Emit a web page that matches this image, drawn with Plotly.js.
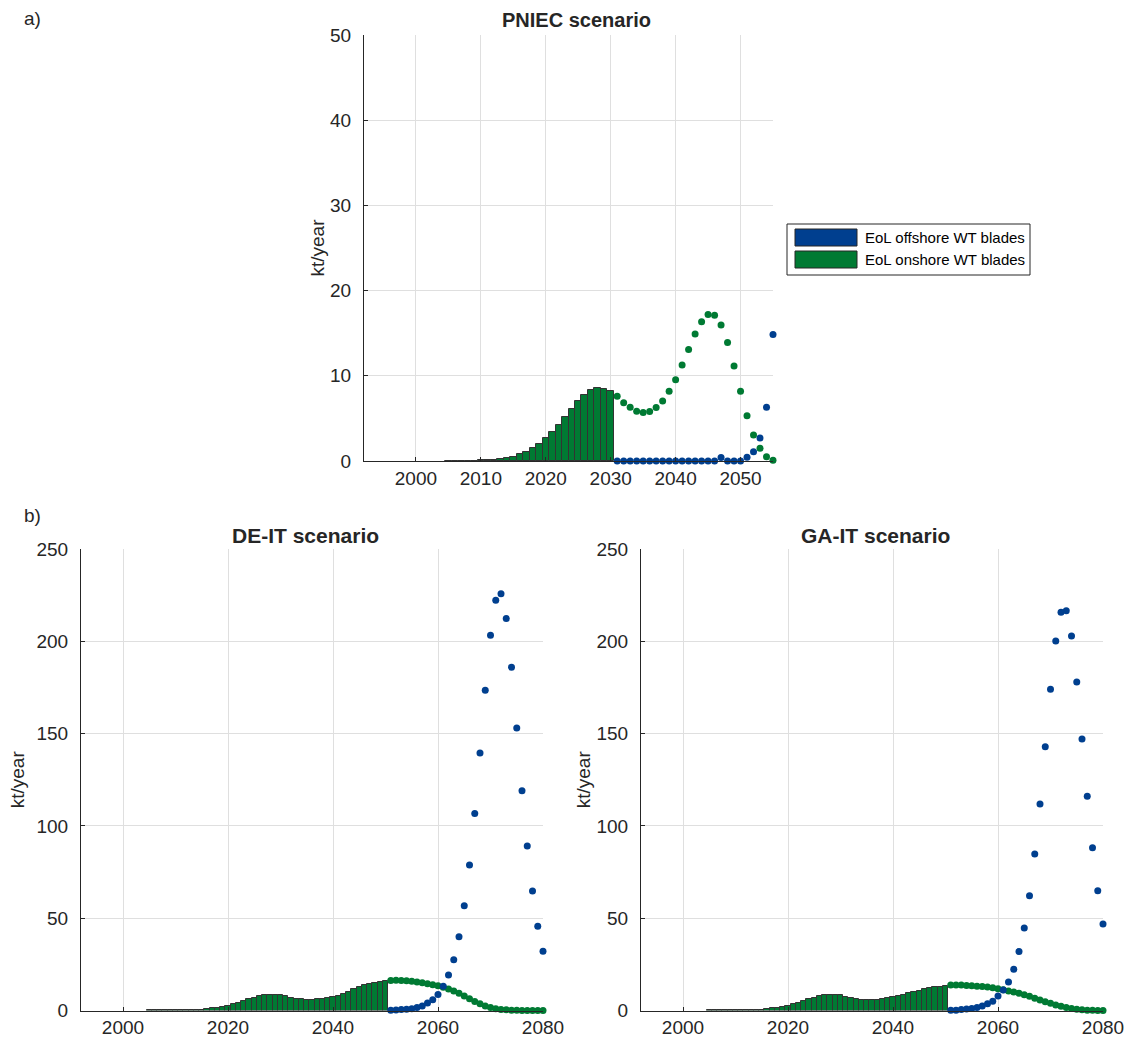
<!DOCTYPE html>
<html>
<head>
<meta charset="utf-8">
<script src="https://cdn.plot.ly/plotly-3.0.1.min.js"></script>
<style>
  html, body { margin: 0; padding: 0; background: #ffffff; }
  #chart { width: 1128px; height: 1042px; }
</style>
</head>
<body>
<div id="chart"></div>
<script>
// ---------------- DATA ----------------
const seriesNames = ['EoL offshore WT blades', 'EoL onshore WT blades'];
const panelTitles = ['PNIEC scenario', 'DE-IT scenario', 'GA-IT scenario'];
const panelLabels = ['a)', 'b)'];
const yTitle = 'kt/year';

// PNIEC: bars (onshore) 2005-2030
const pniecBarYears = [2005,2006,2007,2008,2009,2010,2011,2012,2013,2014,2015,2016,2017,2018,2019,2020,2021,2022,2023,2024,2025,2026,2027,2028,2029,2030];
const pniecOnshoreBars = [0.01,0.02,0.02,0.03,0.04,0.06,0.09,0.13,0.2,0.32,0.52,0.79,1.1,1.53,2.04,2.66,3.37,4.23,5.13,6.07,7.0,7.8,8.33,8.6,8.5,8.18];
// PNIEC: dots 2031-2055
const pniecDotYears = [2031,2032,2033,2034,2035,2036,2037,2038,2039,2040,2041,2042,2043,2044,2045,2046,2047,2048,2049,2050,2051,2052,2053,2054,2055];
const pniecOnshoreDots = [7.6,6.85,6.3,5.84,5.68,5.8,6.27,7.05,8.2,9.55,11.27,13.1,14.9,16.35,17.2,17.1,15.96,13.9,11.15,8.2,5.3,3.05,1.5,0.5,0.1];
const pniecOffshoreDots = [0,0,0,0,0,0,0,0,0,0,0,0,0,0,0,0,0.4,0,0,0,0.45,1.1,2.7,6.3,14.85];

// DE-IT / GA-IT: bars (onshore) 2005-2050
const longBarYears = [2005,2006,2007,2008,2009,2010,2011,2012,2013,2014,2015,2016,2017,2018,2019,2020,2021,2022,2023,2024,2025,2026,2027,2028,2029,2030,2031,2032,2033,2034,2035,2036,2037,2038,2039,2040,2041,2042,2043,2044,2045,2046,2047,2048,2049,2050];
const deitOnshoreBars = [0.01,0.02,0.02,0.03,0.04,0.06,0.09,0.13,0.2,0.32,0.52,0.79,1.1,1.53,2.04,2.66,3.37,4.23,5.13,6.07,7.0,7.8,8.33,8.6,8.5,8.18,7.6,7.0,6.4,6.0,5.8,5.8,6.0,6.3,6.7,7.2,7.9,8.9,10.1,11.4,12.6,13.6,14.4,15.1,15.6,15.9];
const gaitOnshoreBars = [0.01,0.02,0.02,0.03,0.04,0.06,0.09,0.13,0.2,0.32,0.52,0.79,1.1,1.53,2.04,2.66,3.37,4.23,5.13,6.07,7.0,7.8,8.33,8.6,8.5,8.18,7.5,6.8,6.2,5.8,5.6,5.6,5.8,6.1,6.6,7.1,7.8,8.5,9.3,10.0,10.7,11.5,12.2,12.7,13.0,13.3];
// DE-IT / GA-IT: dots 2051-2080
const longDotYears = [2051,2052,2053,2054,2055,2056,2057,2058,2059,2060,2061,2062,2063,2064,2065,2066,2067,2068,2069,2070,2071,2072,2073,2074,2075,2076,2077,2078,2079,2080];
const deitOffshoreDots = [0.1,0.3,0.5,0.7,1.0,1.6,2.4,4.0,5.8,8.7,13.1,19.2,27.5,40.0,56.8,78.8,106.7,139.5,173.5,203.3,222.2,225.8,212.3,186.0,153.1,119.1,89.1,64.7,45.7,32.1];
const deitOnshoreDots = [16.3,16.4,16.3,16.1,15.8,15.4,15.0,14.5,13.9,13.4,12.6,11.7,10.6,9.3,7.9,6.4,4.9,3.6,2.5,1.6,1.0,0.6,0.4,0.2,0.1,0.05,0.03,0.02,0.01,0.01];
const gaitOffshoreDots = [0.1,0.2,0.5,0.8,1.1,1.6,2.5,3.6,5.0,7.9,11.1,15.4,22.3,31.9,44.7,62.2,84.8,111.9,142.9,174.0,200.2,215.7,216.6,202.9,178.0,147.1,116.0,88.2,64.9,46.9];
const gaitOnshoreDots = [13.8,13.8,13.8,13.6,13.4,13.2,13.0,12.7,12.3,11.8,11.2,10.6,10.0,9.3,8.5,7.7,6.7,5.7,4.8,3.9,3.0,2.3,1.6,1.1,0.7,0.4,0.2,0.1,0.05,0.02];

const topXTicks = [2000, 2010, 2020, 2030, 2040, 2050];
const topYTicks = [0, 10, 20, 30, 40, 50];
const botXTicks = [2000, 2020, 2040, 2060, 2080];
const botYTicks = [0, 50, 100, 150, 200, 250];

// ---------------- STYLE ----------------
const W = 1128, H = 1042;
const BLUE = '#003f8f';
const GREEN = '#007a33';
const EDGE = '#333333';
const AXC = '#262626';
const GRID = '#dfdfdf';
const FONT = '"Liberation Sans", Arial, Helvetica, sans-serif';
const px = v => v / W;
const py = v => 1 - v / H;

function barTrace(x, y, xa, ya) {
  return { type: 'bar', x: x, y: y, xaxis: xa, yaxis: ya, width: 1,
    marker: { color: GREEN, line: { color: EDGE, width: 1 } },
    showlegend: false, hoverinfo: 'x+y' };
}
function dotTrace(x, y, color, xa, ya) {
  return { type: 'scatter', mode: 'markers', x: x, y: y, xaxis: xa, yaxis: ya,
    marker: { color: color, size: 7 }, cliponaxis: false,
    showlegend: false, hoverinfo: 'x+y' };
}

const traces = [
  barTrace(pniecBarYears, pniecOnshoreBars, 'x', 'y'),
  dotTrace(pniecDotYears, pniecOffshoreDots, BLUE, 'x', 'y'),
  dotTrace(pniecDotYears, pniecOnshoreDots, GREEN, 'x', 'y'),

  barTrace(longBarYears, deitOnshoreBars, 'x2', 'y2'),
  dotTrace(longDotYears, deitOnshoreDots, GREEN, 'x2', 'y2'),
  dotTrace(longDotYears, deitOffshoreDots, BLUE, 'x2', 'y2'),

  barTrace(longBarYears, gaitOnshoreBars, 'x3', 'y3'),
  dotTrace(longDotYears, gaitOnshoreDots, GREEN, 'x3', 'y3'),
  dotTrace(longDotYears, gaitOffshoreDots, BLUE, 'x3', 'y3')
];

function xAxis(domain, range, ticks, anchor) {
  return { domain: domain, range: range, anchor: anchor, tickvals: ticks,
    ticks: 'inside', ticklen: 4, tickcolor: AXC, showline: true, linecolor: AXC, linewidth: 1,
    showgrid: true, gridcolor: GRID, gridwidth: 1, zeroline: false, mirror: false,
    tickfont: { family: FONT, size: 19, color: AXC }, ticklabelstandoff: 0, fixedrange: true };
}
function yAxis(domain, range, ticks, anchor, standoff) {
  return { domain: domain, range: range, anchor: anchor, tickvals: ticks,
    ticks: 'inside', ticklen: 4, tickcolor: AXC, showline: true, linecolor: AXC, linewidth: 1,
    showgrid: true, gridcolor: GRID, gridwidth: 1, zeroline: false, mirror: false,
    tickfont: { family: FONT, size: 19, color: AXC }, ticklabelstandoff: 8,
    title: { text: yTitle, font: { family: FONT, size: 19, color: AXC }, standoff: standoff },
    fixedrange: true };
}

const layout = {
  width: W, height: H,
  margin: { l: 0, r: 0, t: 0, b: 0 },
  paper_bgcolor: '#ffffff', plot_bgcolor: '#ffffff',
  showlegend: false, bargap: 0,
  font: { family: FONT, color: AXC },
  xaxis: xAxis([px(364), px(773)], [1992, 2055], topXTicks, 'y'),
  yaxis: yAxis([py(461), py(35)], [0, 50], topYTicks, 'x', 0),
  xaxis2: xAxis([px(81), px(543)], [1992, 2080], botXTicks, 'y2'),
  yaxis2: yAxis([py(1010.5), py(549)], [0, 250], botYTicks, 'x2', 6),
  xaxis3: xAxis([px(641), px(1103)], [1992, 2080], botXTicks, 'y3'),
  yaxis3: yAxis([py(1010.5), py(549)], [0, 250], botYTicks, 'x3', 0),
  annotations: [
    { text: '<b>' + panelTitles[0] + '</b>', xref: 'paper', yref: 'paper', x: px(577), y: py(20), showarrow: false, xanchor: 'center', yanchor: 'middle', font: { family: FONT, size: 20, color: AXC } },
    { text: '<b>' + panelTitles[1] + '</b>', xref: 'paper', yref: 'paper', x: px(305), y: py(535), showarrow: false, xanchor: 'center', yanchor: 'middle', font: { family: FONT, size: 21, color: AXC } },
    { text: '<b>' + panelTitles[2] + '</b>', xref: 'paper', yref: 'paper', x: px(875), y: py(535), showarrow: false, xanchor: 'center', yanchor: 'middle', font: { family: FONT, size: 21, color: AXC } },
    { text: panelLabels[0], xref: 'paper', yref: 'paper', x: px(22), y: py(18), showarrow: false, xanchor: 'left', yanchor: 'middle', font: { family: FONT, size: 19, color: AXC } },
    { text: panelLabels[1], xref: 'paper', yref: 'paper', x: px(22), y: py(515), showarrow: false, xanchor: 'left', yanchor: 'middle', font: { family: FONT, size: 19, color: AXC } },
    { text: seriesNames[0], xref: 'paper', yref: 'paper', x: px(863), y: py(237.5), showarrow: false, xanchor: 'left', yanchor: 'middle', font: { family: FONT, size: 15, color: '#000000' } },
    { text: seriesNames[1], xref: 'paper', yref: 'paper', x: px(863), y: py(259.5), showarrow: false, xanchor: 'left', yanchor: 'middle', font: { family: FONT, size: 15, color: '#000000' } }
  ],
  shapes: [
    { type: 'rect', xref: 'paper', yref: 'paper', x0: px(787), x1: px(1030), y0: py(224), y1: py(275), line: { color: '#262626', width: 1 }, fillcolor: '#ffffff' },
    { type: 'rect', xref: 'paper', yref: 'paper', x0: px(795), x1: px(857), y0: py(229), y1: py(246), line: { color: '#262626', width: 1 }, fillcolor: BLUE },
    { type: 'rect', xref: 'paper', yref: 'paper', x0: px(795), x1: px(857), y0: py(251), y1: py(268), line: { color: '#262626', width: 1 }, fillcolor: GREEN }
  ]
};

Plotly.newPlot('chart', traces, layout, { displayModeBar: false, staticPlot: false });
</script>
</body>
</html>
